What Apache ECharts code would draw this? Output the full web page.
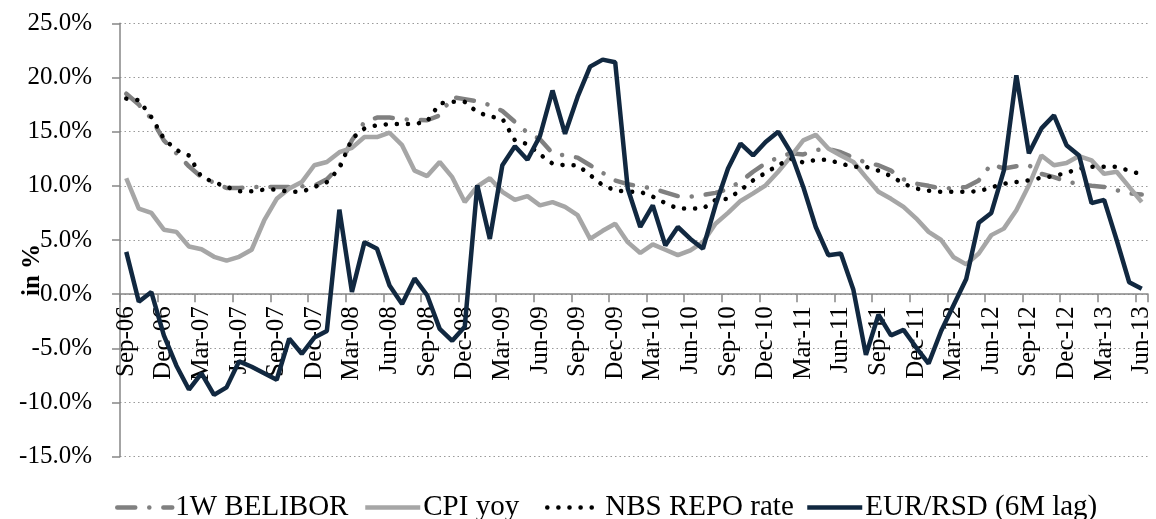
<!DOCTYPE html>
<html>
<head>
<meta charset="utf-8">
<script src="https://cdn.jsdelivr.net/npm/echarts@6/dist/echarts.min.js"></script>
<style>
html,body{margin:0;padding:0;background:#fff;}
#chart{width:1156px;height:519px;}
</style>
</head>
<body>
<div id="chart"></div>
<script>
var categories = [
 'Sep-06','Oct-06','Nov-06','Dec-06',
 'Jan-07','Feb-07','Mar-07','Apr-07','May-07','Jun-07','Jul-07','Aug-07','Sep-07','Oct-07','Nov-07','Dec-07',
 'Jan-08','Feb-08','Mar-08','Apr-08','May-08','Jun-08','Jul-08','Aug-08','Sep-08','Oct-08','Nov-08','Dec-08',
 'Jan-09','Feb-09','Mar-09','Apr-09','May-09','Jun-09','Jul-09','Aug-09','Sep-09','Oct-09','Nov-09','Dec-09',
 'Jan-10','Feb-10','Mar-10','Apr-10','May-10','Jun-10','Jul-10','Aug-10','Sep-10','Oct-10','Nov-10','Dec-10',
 'Jan-11','Feb-11','Mar-11','Apr-11','May-11','Jun-11','Jul-11','Aug-11','Sep-11','Oct-11','Nov-11','Dec-11',
 'Jan-12','Feb-12','Mar-12','Apr-12','May-12','Jun-12','Jul-12','Aug-12','Sep-12','Oct-12','Nov-12','Dec-12',
 'Jan-13','Feb-13','Mar-13','Apr-13','May-13','Jun-13'
];

var belibor = [
 18.5, 17.5, 16.2, 14.2, 13.0, 11.8, 10.8, 10.3, 9.8, 9.8,
 9.9, 9.9, 9.9, 9.9, 9.95, 10.0, 10.6, 11.8, 14.2, 15.9,
 16.3, 16.3, 16.15, 16.1, 16.05, 16.5, 18.2, 18.0, 17.8, 17.45,
 16.9, 15.9, 14.9, 14.3, 13.0, 12.8, 12.6, 11.9, 11.2, 10.5,
 10.15, 9.95, 9.75, 9.4, 9.05, 9.0, 9.15, 9.35, 9.7, 10.4,
 11.3, 12.1, 12.6, 13.0, 12.9, 13.3, 13.4, 13.1, 12.6, 12.15,
 11.9, 11.4, 10.6, 10.2, 10.0, 9.75, 9.8, 9.9, 10.5, 12.0,
 11.6, 11.8, 11.9, 11.1, 10.8, 10.4, 10.15, 10.0, 9.9, 9.6,
 9.3, 9.2
];

var cpi = [
 10.7, 7.9, 7.5, 5.95, 5.75, 4.4, 4.15, 3.45, 3.1, 3.45,
 4.1, 6.8, 8.8, 9.75, 10.35, 11.9, 12.2, 13.1, 13.5, 14.5,
 14.5, 14.9, 13.75, 11.4, 10.9, 12.2, 10.8, 8.5, 9.95, 10.7,
 9.45, 8.7, 9.05, 8.2, 8.5, 8.05, 7.3, 5.1, 5.85, 6.5,
 4.8, 3.8, 4.6, 4.1, 3.6, 4.05, 4.8, 6.5, 7.5, 8.6,
 9.3, 10.05, 11.3, 12.7, 14.2, 14.7, 13.45, 12.8, 12.2, 10.8,
 9.45, 8.8, 8.05, 7.0, 5.75, 5.0, 3.4, 2.75, 3.75, 5.45,
 6.05, 7.75, 10.05, 12.8, 11.9, 12.1, 12.75, 12.35, 11.1, 11.3,
 9.9, 8.5
];

var repo = [
 18.05, 17.9, 16.35, 14.35, 13.3, 12.8, 10.8, 10.35, 9.9, 9.5,
 9.5, 9.65, 9.65, 9.45, 9.45, 9.9, 10.35, 11.6, 14.35, 15.3,
 15.6, 15.7, 15.7, 15.7, 15.95, 17.6, 17.75, 17.75, 16.8, 16.4,
 16.2, 14.2, 13.85, 12.9, 12.05, 11.9, 11.9, 11.0, 10.05, 9.6,
 9.45, 9.45, 9.0, 8.4, 7.9, 7.9, 7.9, 8.7, 8.8, 9.6,
 10.5, 11.2, 11.9, 12.5, 12.15, 12.4, 12.4, 12.05, 11.75, 11.75,
 11.4, 10.9, 10.2, 9.75, 9.55, 9.45, 9.45, 9.45, 9.5, 9.85,
 10.2, 10.35, 10.5, 10.75, 10.9, 11.2, 11.6, 11.75, 11.75, 11.75,
 11.4, 11.05
];

var eurRsd = [
 3.9, -0.7, 0.2, -3.8, -6.6, -8.8, -7.3, -9.3, -8.6, -6.2,
 -6.7, -7.3, -7.9, -4.1, -5.5, -4.0, -3.4, 7.8, 0.2, 4.8,
 4.2, 0.8, -0.9, 1.45, -0.1, -3.2, -4.3, -3.0, 10.05, 5.1,
 11.9, 13.65, 12.4, 14.6, 18.8, 14.8, 18.2, 21.0, 21.65, 21.4,
 9.75, 6.2, 8.2, 4.5, 6.2, 5.1, 4.2, 8.2, 11.6, 13.9,
 12.8, 14.05, 15.0, 13.1, 9.9, 6.2, 3.6, 3.75, 0.4, -5.6,
 -1.9, -3.8, -3.3, -4.9, -6.4, -3.4, -1.0, 1.4, 6.6, 7.5,
 11.4, 20.2, 13.0, 15.3, 16.5, 13.75, 12.8, 8.4, 8.7, 5.0,
 1.1, 0.5
];

var seriesNames = ['1W BELIBOR', 'CPI yoy', 'NBS REPO rate', 'EUR/RSD (6M lag)'];
var yTicks = [-15, -10, -5, 0, 5, 10, 15, 20, 25];

var FONT = '"Liberation Serif", "Times New Roman", serif';
var axisGray = '#868686';

var lineStyles = [
  {color: '#808080', width: 4.5, type: [18, 14, 0.1, 14], cap: 'round'},
  {color: '#a6a6a6', width: 4.5, type: 'solid', cap: 'butt'},
  {color: '#000000', width: 4.5, type: [0.1, 11], cap: 'round'},
  {color: '#112840', width: 4.5, type: 'solid', cap: 'butt'}
];

var GRID_TOP = 23.3, GRID_BOTTOM_Y = 456.7;
var plotH = GRID_BOTTOM_Y - GRID_TOP;
var zeroOffset = -plotH * (0 - yTicks[0]) / (yTicks[yTicks.length - 1] - yTicks[0]);

var legendLefts = [110, 358, 540, 800];
function makeLegend(i) {
  return {
    data: [seriesNames[i]],
    left: legendLefts[i],
    top: 488,
    itemWidth: 55,
    itemHeight: 14,
    itemGap: 0,
    itemStyle: {opacity: 0},
    lineStyle: lineStyles[i],
    textStyle: {fontFamily: FONT, fontSize: 29, color: '#000', padding: [0, 0, 0, -2]}
  };
}

var chart = echarts.init(document.getElementById('chart'), null, {renderer: 'canvas'});
chart.setOption({
  animation: false,
  backgroundColor: '#ffffff',
  textStyle: {fontFamily: FONT},
  grid: {left: 120, right: 8, top: GRID_TOP, bottom: 519 - GRID_BOTTOM_Y, containLabel: false, outerBoundsMode: 'none'},
  legend: [makeLegend(0), makeLegend(1), makeLegend(2), makeLegend(3)],
  graphic: [{
    type: 'text',
    x: 33,
    y: 270,
    rotation: Math.PI / 2,
    style: {
      text: 'in %',
      fill: '#000',
      font: 'bold 25px ' + FONT,
      align: 'center',
      verticalAlign: 'middle'
    }
  }],
  xAxis: {
    type: 'category',
    data: categories,
    boundaryGap: true,
    offset: zeroOffset,
    axisLine: {onZero: false, lineStyle: {color: axisGray, width: 1.5}},
    axisTick: {show: true, interval: 2, length: 8, lineStyle: {color: axisGray, width: 1.5}},
    axisLabel: {interval: 2, rotate: 90, fontSize: 25, fontFamily: FONT, color: '#000', margin: 12},
    splitLine: {show: false}
  },
  yAxis: {
    type: 'value',
    min: yTicks[0],
    max: yTicks[yTicks.length - 1],
    interval: 5,
    axisLine: {show: true, lineStyle: {color: axisGray, width: 1.5}},
    axisTick: {show: true, length: 8, lineStyle: {color: axisGray, width: 1.5}},
    axisLabel: {
      fontSize: 25, fontFamily: FONT, color: '#000', margin: 28,
      formatter: function (v) { return v.toFixed(1) + '%'; }
    },
    splitLine: {show: true, lineStyle: {color: '#9a9a9a', width: 1.2, type: [1.5, 3]}}
  },
  series: [
    {
      name: seriesNames[0], type: 'line', data: belibor, symbol: 'none', showSymbol: false,
      lineStyle: lineStyles[0], itemStyle: {color: '#808080'}, z: 2
    },
    {
      name: seriesNames[1], type: 'line', data: cpi, symbol: 'none', showSymbol: false,
      lineStyle: lineStyles[1], itemStyle: {color: '#a6a6a6'}, z: 3
    },
    {
      name: seriesNames[2], type: 'line', data: repo, symbol: 'none', showSymbol: false,
      lineStyle: lineStyles[2], itemStyle: {color: '#000000'}, z: 4
    },
    {
      name: seriesNames[3], type: 'line', data: eurRsd, symbol: 'none', showSymbol: false,
      lineStyle: lineStyles[3], itemStyle: {color: '#112840'}, z: 5
    }
  ]
});
</script>
</body>
</html>
